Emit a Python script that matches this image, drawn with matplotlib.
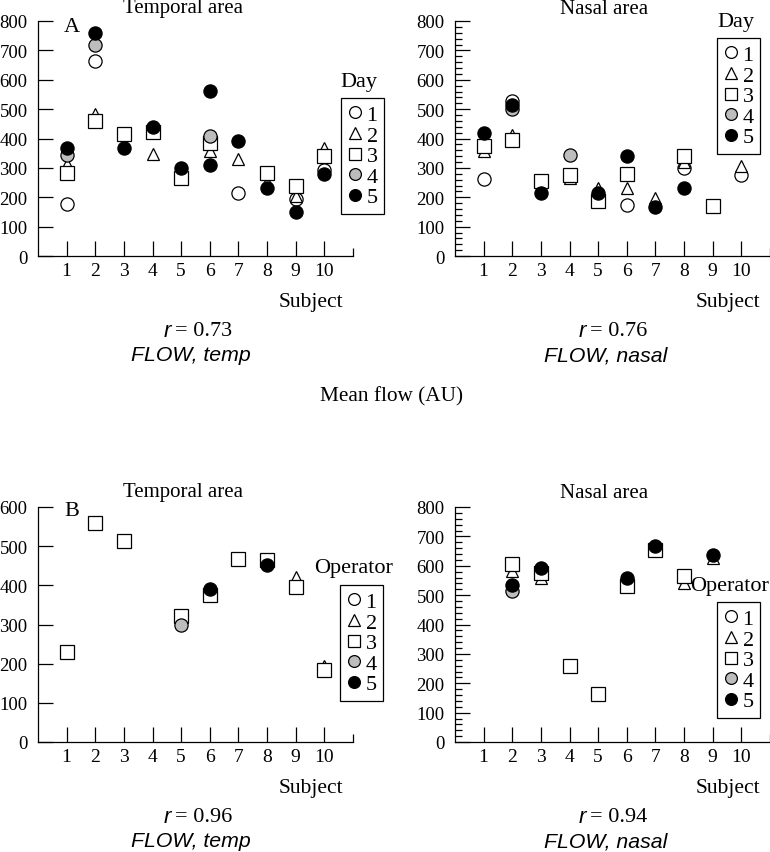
import numpy as np
import matplotlib
matplotlib.use('Agg')
from matplotlib import pyplot as plt
from matplotlib.lines import Line2D

plt.rcParams['font.family'] = ['Liberation Serif', 'DejaVu Serif']

# (subject, value), one pair of lists per group
# A: repeatability between days
temp_day_x = {
    1: [1, 2, 7, 9, 10],
    2: [1, 2, 3, 4, 5, 6, 7, 8, 9, 10],
    3: [1, 2, 3, 4, 5, 6, 8, 9, 10],
    4: [1, 2, 6],
    5: [1, 2, 3, 4, 5, 6, 6, 7, 8, 9, 10],
}
temp_day_y = {
    1: [177, 665, 213, 193, 294],
    2: [313, 483, 381, 347, 279, 356, 330, 253, 203, 367],
    3: [284, 461, 415, 423, 264, 383, 282, 237, 341],
    4: [345, 717, 410],
    5: [367, 760, 366, 438, 299, 563, 309, 390, 230, 150, 279],
}
nasal_day_x = {
    1: [1, 2, 6, 8, 10],
    2: [1, 2, 3, 4, 5, 6, 7, 8, 10],
    3: [1, 2, 3, 4, 5, 6, 8, 9],
    4: [2, 4],
    5: [1, 2, 3, 5, 6, 7, 8],
}
nasal_day_y = {
    1: [262, 529, 174, 301, 276],
    2: [358, 412, 233, 264, 233, 233, 199, 319, 307],
    3: [373, 396, 256, 275, 188, 279, 339, 171],
    4: [500, 344],
    5: [418, 514, 216, 214, 339, 168, 231],
}
# B: repeatability between operators
temp_op_x = {
    2: [9, 10],
    3: [1, 2, 3, 5, 6, 7, 8, 9, 10],
    4: [5],
    5: [6, 8],
}
temp_op_y = {
    2: [421, 195],
    3: [230, 560, 512, 321, 376, 468, 465, 397, 183],
    4: [300],
    5: [391, 451],
}
nasal_op_x = {
    2: [2, 3, 8, 9],
    3: [2, 3, 4, 5, 6, 7, 8],
    4: [2],
    5: [2, 3, 6, 7, 9],
}
nasal_op_y = {
    2: [583, 557, 542, 625],
    3: [605, 574, 258, 163, 532, 652, 566],
    4: [514],
    5: [534, 594, 557, 668, 637],
}

groups = [1, 2, 3, 4, 5]
subjects = list(range(1, 11))
mk = {1: 'o', 2: '^', 3: 's', 4: 'o', 5: 'o'}
fc = {1: 'white', 2: 'white', 3: 'white', 4: '#bdbdbd', 5: 'black'}

W, H = 770, 853
fig = plt.figure(figsize=(7.7, 8.53), dpi=100)


def px_axes(x0, y0, x1, y1):
    # pixel box -> figure fractions
    return fig.add_axes([x0 / W, 1 - y1 / H, (x1 - x0) / W, (y1 - y0) / H])


def panel(ax, xs, ys, ymax, minor):
    for g in groups:
        if g in xs:
            ax.plot(xs[g], ys[g], linestyle='none', marker=mk[g], ms=9.5 if mk[g] != '^' else 9,
                    mfc=fc[g], mec='black', mew=0.9, zorder=3)
    ax.set_xlim(0, 11)
    ax.set_ylim(0, ymax)
    ax.spines['top'].set_visible(False)
    ax.spines['right'].set_visible(False)
    ax.set_xticks(subjects)
    ax.set_xticks([11], minor=True)
    ax.set_yticks(np.arange(0, ymax + 1, 100))
    if minor:
        ax.set_yticks(np.arange(0, ymax + 1, 20), minor=True)
    ax.tick_params(axis='x', which='major', direction='in', length=11, width=0.9,
                   pad=4, labelsize=14)
    ax.tick_params(axis='x', which='minor', direction='in', length=6, width=0.9)
    ax.tick_params(axis='y', which='major', direction='in', length=11, width=0.9,
                   pad=7.5, labelsize=13.5)
    ax.tick_params(axis='y', which='minor', direction='in', length=5, width=0.9)
    for s in ['left', 'bottom']:
        ax.spines[s].set_linewidth(0.9)
    ax.patch.set_alpha(0)


def legend(ax, x0, y0, title, tx, ty):
    handles = [Line2D([], [], linestyle='none', marker=mk[g], ms=8.5 if mk[g] != '^' else 8,
                      mfc=fc[g], mec='black', mew=0.9) for g in groups]
    leg = ax.legend(handles, [str(g) for g in groups], loc='upper left',
                    bbox_to_anchor=(x0 / W, 1 - y0 / H), bbox_transform=fig.transFigure,
                    borderaxespad=0, borderpad=0.3, labelspacing=0.0,
                    handlelength=0.7, handletextpad=0.15, fontsize=16,
                    fancybox=False, framealpha=1, edgecolor='black')
    leg.get_frame().set_linewidth(0.9)
    fig.text(tx / W, 1 - ty / H, title, ha='center', va='center', fontsize=16)


def captions(xs, xr, yaxis, rval, site):
    fig.text(xs / W, 1 - (yaxis + 46) / H, 'Subject', ha='center', va='center', fontsize=15.5)
    fig.text((xr - 20) / W, 1 - (yaxis + 75) / H, 'r', ha='right', va='center', fontsize=16,
             family='Liberation Sans', style='italic')
    fig.text((xr - 16) / W, 1 - (yaxis + 75) / H, '= ' + rval, ha='left', va='center',
             fontsize=16)
    fig.text(xr / W, 1 - (yaxis + 99) / H, 'FLOW, ' + site, ha='center', va='center',
             fontsize=15.3, family='Liberation Sans', style='italic')


axA1 = px_axes(38, 22, 353, 257)
panel(axA1, temp_day_x, temp_day_y, 800, False)
legend(axA1, 341, 99, 'Day', 359, 83)
axA2 = px_axes(455, 22, 770, 257)
panel(axA2, nasal_day_x, nasal_day_y, 800, True)
legend(axA2, 717, 39, 'Day', 736, 22)

axB1 = px_axes(38, 508, 353, 743)
panel(axB1, temp_op_x, temp_op_y, 600, False)
legend(axB1, 340, 586, 'Operator', 354, 568)
axB2 = px_axes(455, 508, 770, 743)
panel(axB2, nasal_op_x, nasal_op_y, 800, True)
legend(axB2, 717, 603, 'Operator', 730, 586)

fig.text(183 / W, 1 - 9 / H, 'Temporal area', ha='center', va='center', fontsize=15)
fig.text(604 / W, 1 - 9 / H, 'Nasal area', ha='center', va='center', fontsize=15)
fig.text(183 / W, 1 - 493 / H, 'Temporal area', ha='center', va='center', fontsize=15)
fig.text(604 / W, 1 - 493 / H, 'Nasal area', ha='center', va='center', fontsize=15)
fig.text(72 / W, 1 - 27 / H, 'A', ha='center', va='center', fontsize=16)
fig.text(72 / W, 1 - 512 / H, 'B', ha='center', va='center', fontsize=16)

captions(311, 191, 257, '0.73', 'temp')
captions(728, 606, 257, '0.76', 'nasal')
captions(311, 191, 743, '0.96', 'temp')
captions(728, 606, 743, '0.94', 'nasal')
fig.text(392 / W, 1 - 397 / H, 'Mean flow (AU)', ha='center', va='center', fontsize=15.3)

fig.savefig('out.png', dpi=100, facecolor='white')
